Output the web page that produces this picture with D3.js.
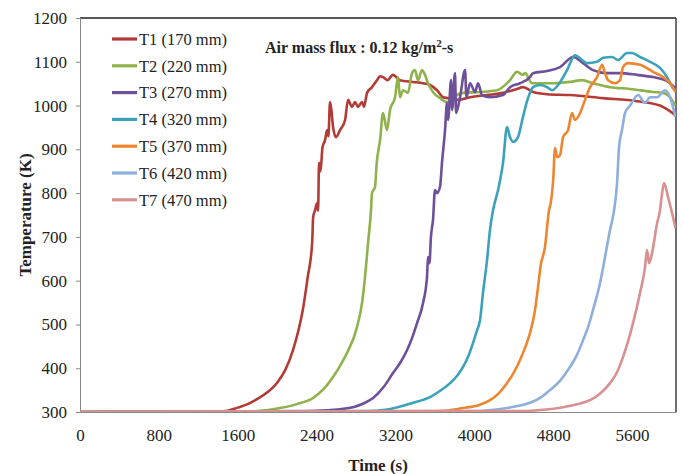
<!DOCTYPE html>
<html>
<head>
<meta charset="utf-8">
<script src="https://cdn.jsdelivr.net/npm/d3@7"></script>
<style>
  html, body { margin: 0; padding: 0; background: #fff; }
  text { font-family: "Liberation Serif", "DejaVu Serif", serif; fill: #222; }
</style>
</head>
<body>
<div id="chart"></div>
<script>
// Thermocouple readings [time (s), temperature (K)]
const t1 = [[0,300],[1400,301],[1500,303],[1600,310],[1700,318],[1800,330],[1900,345],[2000,367],[2080,395],[2160,441],[2220,490],[2260,533],[2310,608],[2355,686],[2365,745],[2385,761],[2404,777],[2415,760],[2425,869],[2440,850],[2460,905],[2486,921],[2506,944],[2520,930],[2536,1008],[2550,990],[2567,951],[2597,928],[2638,944],[2689,967],[2719,1013],[2759,997],[2790,1008],[2820,997],[2861,1008],[2881,997],[2912,1029],[2962,1042],[3013,1058],[3044,1067],[3074,1065],[3120,1058],[3175,1070],[3246,1058],[3378,1054],[3480,1051],[3551,1047],[3622,1035],[3683,1019],[3733,1017],[3825,1013],[3957,1019],[4129,1024],[4291,1029],[4433,1038],[4494,1042],[4596,1031],[4738,1026],[4971,1024],[5306,1017],[5651,1010],[5884,1000],[5965,990],[6040,978]];
const t2 = [[0,300],[1700,301],[1800,302],[2029,309],[2200,318],[2364,332],[2470,352],[2567,380],[2650,410],[2709,435],[2810,494],[2861,549],[2891,608],[2922,686],[2952,761],[2962,800],[2993,814],[3010,869],[3044,921],[3074,983],[3114,944],[3145,990],[3196,1019],[3226,1065],[3246,1019],[3277,1035],[3327,1029],[3368,1074],[3398,1081],[3429,1058],[3469,1081],[3500,1070],[3530,1051],[3581,1031],[3652,1017],[3723,1008],[3784,1019],[3886,1029],[4058,1031],[4230,1035],[4362,1058],[4433,1077],[4494,1070],[4514,1074],[4586,1051],[4667,1051],[4800,1051],[4971,1054],[5093,1058],[5204,1051],[5377,1042],[5580,1038],[5813,1031],[5915,1029],[5986,1019],[6040,1000]];
const t3 = [[0,300],[2300,302],[2500,304],[2770,311],[2880,320],[2973,332],[3080,357],[3175,389],[3250,413],[3317,441],[3370,470],[3419,503],[3480,549],[3520,608],[3530,654],[3545,640],[3560,700],[3581,739],[3601,807],[3620,800],[3652,814],[3672,869],[3703,944],[3723,1006],[3734,967],[3764,1058],[3775,990],[3804,1074],[3815,983],[3855,1019],[3906,1081],[3920,1019],[3957,1051],[4007,1031],[4038,1051],[4078,1024],[4159,1019],[4291,1024],[4362,1042],[4464,1051],[4565,1065],[4596,1074],[4738,1079],[4870,1088],[5002,1111],[5103,1097],[5204,1081],[5346,1074],[5478,1074],[5651,1070],[5813,1065],[5955,1056],[6040,1040]];
const t4 = [[0,300],[2900,302],[3100,305],[3378,321],[3551,334],[3650,348],[3754,366],[3830,384],[3886,403],[3940,428],[3987,458],[4025,485],[4058,510],[4088,572],[4129,647],[4159,716],[4190,761],[4241,807],[4291,869],[4332,951],[4362,928],[4393,917],[4443,928],[4494,974],[4535,1010],[4565,1029],[4596,1042],[4667,1047],[4738,1042],[4789,1035],[4850,1047],[4941,1081],[5022,1115],[5093,1104],[5140,1097],[5245,1100],[5306,1109],[5397,1111],[5458,1104],[5549,1120],[5600,1120],[5681,1111],[5783,1100],[5884,1086],[5955,1065],[6016,1040],[6040,1035]];
const t5 = [[0,300],[3500,302],[3700,303],[3886,309],[4050,316],[4159,327],[4250,343],[4332,366],[4400,390],[4464,419],[4520,450],[4565,480],[4616,533],[4646,585],[4677,640],[4695,655],[4717,677],[4738,722],[4758,761],[4775,777],[4800,830],[4819,903],[4840,882],[4870,887],[4900,928],[4951,944],[4991,983],[5022,967],[5073,983],[5123,1013],[5174,1042],[5245,1065],[5296,1093],[5326,1074],[5357,1058],[5428,1051],[5478,1058],[5509,1088],[5559,1097],[5681,1093],[5813,1077],[5915,1065],[5986,1051],[6040,1031]];
const t6 = [[0,300],[4000,302],[4200,305],[4400,312],[4565,321],[4680,334],[4768,350],[4880,374],[4971,403],[5040,430],[5103,464],[5160,498],[5204,533],[5275,594],[5326,654],[5377,716],[5400,739],[5418,761],[5448,823],[5468,905],[5498,944],[5529,983],[5580,1000],[5661,1024],[5732,1006],[5783,1019],[5854,1019],[5935,1035],[5986,1019],[6040,974]];
const t7 = [[0,300],[4500,302],[4700,305],[4900,311],[5050,318],[5174,327],[5280,343],[5377,366],[5450,392],[5509,426],[5560,462],[5610,503],[5681,572],[5732,631],[5752,670],[5773,640],[5803,663],[5854,731],[5884,761],[5900,791],[5925,823],[5965,791],[6016,745],[6040,720]];

const seriesNames = ['T1 (170 mm)', 'T2 (220 mm)', 'T3 (270 mm)', 'T4 (320 mm)', 'T5 (370 mm)', 'T6 (420 mm)', 'T7 (470 mm)'];
const seriesData = [t1, t2, t3, t4, t5, t6, t7];
const seriesColors = ['#b33b36', '#8fb24c', '#6e4f99', '#3ba2ba', '#ee8631', '#8eaedd', '#d89090'];

const xTicks = [0, 800, 1600, 2400, 3200, 4000, 4800, 5600];
const yTicks = [300, 400, 500, 600, 700, 800, 900, 1000, 1100, 1200];

const width = 682, height = 474;
const margin = { top: 18, right: 6, bottom: 62, left: 80 };
const innerW = width - margin.left - margin.right;
const innerH = height - margin.top - margin.bottom;

const svg = d3.select('#chart')
  .append('svg')
  .attr('width', width)
  .attr('height', height);

const x = d3.scaleLinear().domain([0, 6046]).range([0, innerW]);
const y = d3.scaleLinear().domain([300, 1200]).range([innerH, 0]);

const g = svg.append('g')
  .attr('transform', `translate(${margin.left},${margin.top})`);

g.append('clipPath').attr('id', 'plot-clip')
  .append('rect').attr('width', innerW).attr('height', innerH);

// Frame: top and right dark, left and bottom grey
g.append('line').attr('x1', 0).attr('x2', innerW).attr('y1', 0).attr('y2', 0)
  .attr('stroke', '#222').attr('stroke-width', 1.3);
g.append('line').attr('x1', innerW).attr('x2', innerW).attr('y1', 0).attr('y2', innerH)
  .attr('stroke', '#222').attr('stroke-width', 1.3);

// Y axis
const yAxis = g.append('g')
  .call(d3.axisLeft(y).tickValues(yTicks).tickSize(4).tickPadding(9).tickFormat(d3.format('d')));
yAxis.select('.domain').attr('stroke', '#888');
yAxis.selectAll('.tick line').attr('stroke', '#888');
yAxis.selectAll('text').attr('font-size', 17).attr('fill', '#222');

// X axis
const xAxis = g.append('g')
  .attr('transform', `translate(0,${innerH})`)
  .call(d3.axisBottom(x).tickValues(xTicks).tickSize(0).tickPadding(17).tickFormat(d3.format('d')));
xAxis.select('.domain').attr('stroke', '#888');
xAxis.selectAll('text').attr('font-size', 17).attr('fill', '#222');

// Lines
const line = d3.line()
  .curve(d3.curveMonotoneX)
  .x(d => x(d[0]))
  .y(d => y(d[1]));

const linesG = g.append('g').attr('clip-path', 'url(#plot-clip)');
seriesData.forEach((data, i) => {
  linesG.append('path')
    .datum(data)
    .attr('fill', 'none')
    .attr('stroke', seriesColors[i])
    .attr('stroke-width', 2.6)
    .attr('stroke-linejoin', 'round')
    .attr('d', line);
});

// Legend
const legend = svg.append('g').attr('transform', 'translate(112,39)');
seriesNames.forEach((name, i) => {
  const row = legend.append('g').attr('transform', `translate(0,${i * 26.8})`);
  row.append('line')
    .attr('x1', 0).attr('x2', 25)
    .attr('stroke', seriesColors[i])
    .attr('stroke-width', 3.2);
  row.append('text')
    .attr('x', 27)
    .attr('dy', '0.35em')
    .attr('font-size', 16.5)
    .text(name);
});

// Annotation
const note = svg.append('text')
  .attr('x', 265)
  .attr('y', 53)
  .attr('font-size', 16)
  .attr('font-weight', 'bold');
note.append('tspan').text('Air mass flux : 0.12 kg/m');
note.append('tspan').attr('dy', -6).attr('font-size', 11).text('2');
note.append('tspan').attr('dy', 6).text('-s');

// Axis titles
svg.append('text')
  .attr('x', margin.left + innerW / 2)
  .attr('y', 471)
  .attr('text-anchor', 'middle')
  .attr('font-size', 17)
  .attr('font-weight', 'bold')
  .text('Time (s)');

svg.append('text')
  .attr('transform', `translate(31,${margin.top + innerH / 2}) rotate(-90)`)
  .attr('text-anchor', 'middle')
  .attr('font-size', 17)
  .attr('font-weight', 'bold')
  .text('Temperature (K)');
</script>
</body>
</html>
